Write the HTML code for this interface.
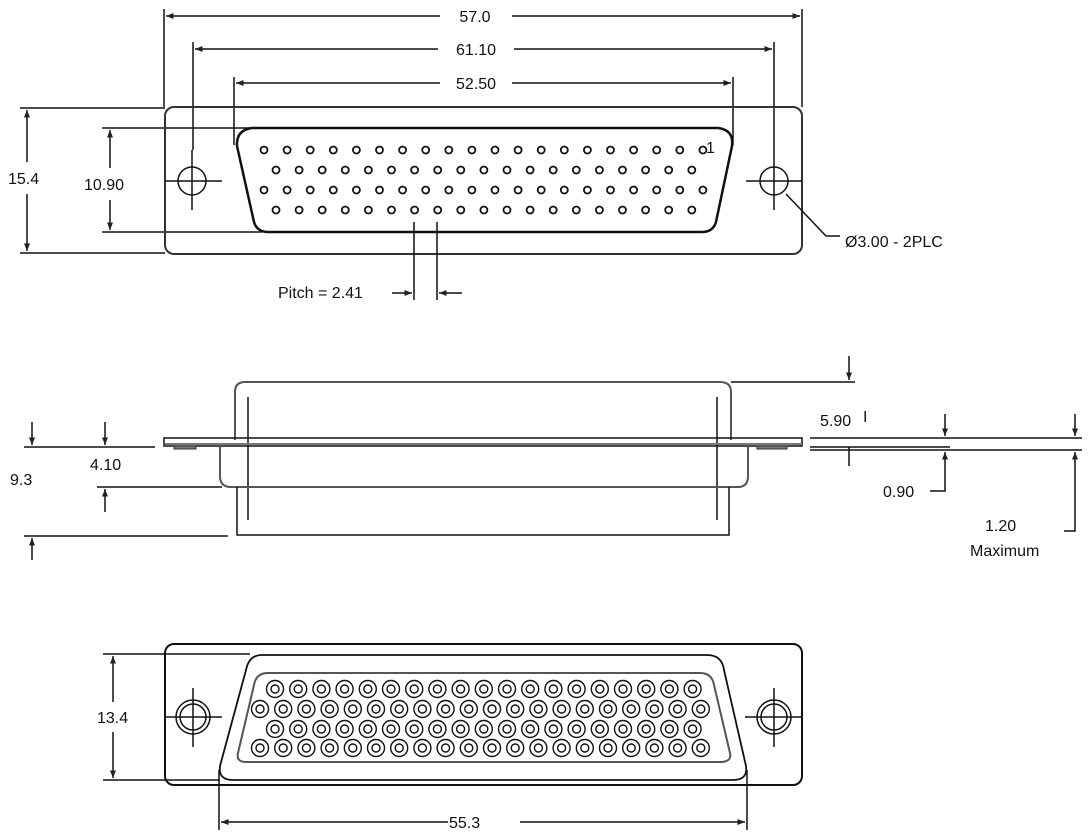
<!DOCTYPE html>
<html><head><meta charset="utf-8"><style>
html,body{margin:0;padding:0;background:#fff;}
svg{display:block;}
text{font-family:"Liberation Sans",sans-serif;font-size:16px;fill:#111;}
</style></head><body>
<svg id="s" width="1090" height="839" viewBox="0 0 1090 839" xmlns="http://www.w3.org/2000/svg">
<defs>
<marker id="a" viewBox="0 0 10 10" refX="10" refY="5" markerWidth="7" markerHeight="5" orient="auto-start-reverse"><path d="M0,1 L10,5 L0,9 z" fill="#222"/></marker>
</defs>
<g stroke="#111" stroke-width="1.5" fill="none">
<line x1="164" y1="9" x2="164" y2="107"/>
<line x1="802" y1="9" x2="802" y2="107"/>
<line x1="166" y1="16" x2="440" y2="16" marker-start="url(#a)"/>
<line x1="512" y1="16" x2="800" y2="16" marker-end="url(#a)"/>
<line x1="193" y1="42" x2="193" y2="150"/>
<line x1="774" y1="42" x2="774" y2="150"/>
<line x1="195" y1="49" x2="438" y2="49" marker-start="url(#a)"/>
<line x1="514" y1="49" x2="772" y2="49" marker-end="url(#a)"/>
<line x1="234" y1="77" x2="234" y2="145"/>
<line x1="733" y1="77" x2="733" y2="145"/>
<line x1="236" y1="83" x2="440" y2="83" marker-start="url(#a)"/>
<line x1="512" y1="83" x2="731" y2="83" marker-end="url(#a)"/>
<line x1="20" y1="108" x2="165" y2="108"/>
<line x1="20" y1="253" x2="165" y2="253"/>
<line x1="27" y1="110" x2="27" y2="162" marker-start="url(#a)"/>
<line x1="27" y1="194" x2="27" y2="251" marker-end="url(#a)"/>
<line x1="102" y1="128" x2="250" y2="128"/>
<line x1="102" y1="232" x2="262" y2="232"/>
<line x1="110" y1="130" x2="110" y2="168" marker-start="url(#a)"/>
<line x1="110" y1="200" x2="110" y2="230" marker-end="url(#a)"/>
<rect x="165" y="107" width="637" height="147" rx="9" stroke="#333" stroke-width="2"/>
<path d="M252,128 L718,128 Q734,130 732,146 L716,222 Q713,232 702,232 L268,232 Q257,232 254,222 L237,146 Q236,130 252,128 Z" stroke-width="2.5"/>
<circle cx="192" cy="181" r="14"/>
<circle cx="774" cy="181" r="14"/>
<line x1="165" y1="181" x2="222" y2="181"/><line x1="192" y1="150" x2="192" y2="210"/>
<line x1="746" y1="181" x2="802" y2="181"/><line x1="774" y1="150" x2="774" y2="210"/>
<polyline points="786,194 826,236 840,236"/>
<line x1="414" y1="222" x2="414" y2="300"/>
<line x1="437" y1="222" x2="437" y2="300"/>
<line x1="392" y1="293" x2="412" y2="293" marker-end="url(#a)"/>
<line x1="462" y1="293" x2="439" y2="293" marker-end="url(#a)"/>

<path d="M235,440 L235,392 Q235,382 245,382 L720,382 Q731,382 731,392 L731,440" stroke="#555" stroke-width="2"/>
<line x1="248" y1="397" x2="248" y2="520"/>
<line x1="717" y1="397" x2="717" y2="520"/>
<rect x="164" y="438" width="638" height="8" stroke-width="1.5"/>
<line x1="165" y1="444" x2="802" y2="444" stroke="#777" stroke-width="2"/>
<rect x="174" y="446" width="22" height="3" fill="#777" stroke="#333" stroke-width="1"/>
<rect x="757" y="446" width="30" height="3" fill="#777" stroke="#333" stroke-width="1"/>
<path d="M220,446 L220,476 Q220,487 231,487 L738,487 Q748,487 748,476 L748,446" stroke="#555" stroke-width="2"/>
<path d="M237,487 L237,535 L729,535 L729,487"/>
<line x1="24" y1="447" x2="155" y2="447"/>
<line x1="24" y1="536" x2="228" y2="536"/>
<line x1="32" y1="422" x2="32" y2="445" marker-end="url(#a)"/>
<line x1="32" y1="560" x2="32" y2="538" marker-end="url(#a)"/>
<line x1="105" y1="422" x2="105" y2="445" marker-end="url(#a)"/>
<line x1="97" y1="487" x2="222" y2="487"/>
<line x1="105" y1="512" x2="105" y2="489" marker-end="url(#a)"/>
<line x1="731" y1="382" x2="855" y2="382"/>
<line x1="849" y1="356" x2="849" y2="380" marker-end="url(#a)"/>
<line x1="849" y1="447" x2="849" y2="466"/>
<line x1="810" y1="438" x2="1082" y2="438"/>
<line x1="810" y1="447" x2="950" y2="447"/>
<line x1="810" y1="450" x2="1082" y2="450"/>
<line x1="945" y1="414" x2="945" y2="436" marker-end="url(#a)"/>
<polyline points="945,468 945,491 930,491" /><line x1="945" y1="468" x2="945" y2="452" marker-end="url(#a)"/>
<line x1="1075" y1="414" x2="1075" y2="436" marker-end="url(#a)"/>
<polyline points="1075,470 1075,531 1064,531"/><line x1="1075" y1="470" x2="1075" y2="452" marker-end="url(#a)"/>

<line x1="103" y1="654" x2="250" y2="654"/>
<line x1="103" y1="780" x2="220" y2="780"/>
<line x1="113" y1="656" x2="113" y2="702" marker-start="url(#a)"/>
<line x1="113" y1="732" x2="113" y2="778" marker-end="url(#a)"/>
<rect x="165" y="644" width="637" height="141" rx="9" stroke-width="2"/>
<path d="M262,655 L707,655 Q722,655 724,670 L746,766 Q748,780 733,780 L233,780 Q218,780 220,766 L246,670 Q249,655 262,655 Z" stroke-width="1.8"/>
<path d="M268,673 L700,673 Q712,673 714,685 L730,753 Q732,762 720,762 L246,762 Q236,762 238,753 L254,685 Q256,673 268,673 Z" stroke="#555" stroke-width="2"/>
<circle cx="193" cy="717" r="17"/><circle cx="193" cy="717" r="13"/>
<circle cx="774" cy="717" r="17"/><circle cx="774" cy="717" r="13"/>
<line x1="164" y1="717" x2="222" y2="717"/><line x1="193" y1="688" x2="193" y2="747"/>
<line x1="745" y1="717" x2="802" y2="717"/><line x1="774" y1="688" x2="774" y2="747"/>
<line x1="219" y1="770" x2="219" y2="830"/>
<line x1="747" y1="770" x2="747" y2="830"/>
<line x1="221" y1="822" x2="448" y2="822" marker-start="url(#a)"/>
<line x1="520" y1="822" x2="745" y2="822" marker-end="url(#a)"/>
<g id="pins"></g>
</g>
<text x="475" y="22" text-anchor="middle">57.0</text>
<text x="476" y="55" text-anchor="middle">61.10</text>
<text x="476" y="89" text-anchor="middle">52.50</text>
<text x="8" y="184">15.4</text>
<text x="84" y="190">10.90</text>
<text x="706" y="153" font-size="15">1</text>
<text x="845" y="247">Ø3.00 - 2PLC</text>
<text x="278" y="298">Pitch = 2.41</text>
<text x="10" y="485">9.3</text>
<text x="90" y="470">4.10</text>
<text x="820" y="426">5.90</text><text x="863" y="422" font-size="10">I</text>
<text x="883" y="497">0.90</text>
<text x="985" y="531">1.20</text>
<text x="970" y="556">Maximum</text>
<text x="97" y="723">13.4</text>
<text x="449" y="828">55.3</text>
</svg>
<script>
var g=document.getElementById('pins'),h='';
var rows=[[150,264,20],[170,276,19],[190,264,20],[210,276,19]];
rows.forEach(function(r){for(var i=0;i<r[2];i++){h+='<circle cx="'+(r[1]+i*23.1)+'" cy="'+r[0]+'" r="3.5" stroke-width="1.8"/>';}});
var b=[[689,275,19],[709,260,20],[729,275,19],[748,260,20]];
b.forEach(function(r){for(var i=0;i<r[2];i++){var x=r[1]+i*23.2;h+='<circle cx="'+x+'" cy="'+r[0]+'" r="8.5" stroke-width="1.4"/><circle cx="'+x+'" cy="'+r[0]+'" r="4" stroke-width="1.4"/>';}});
g.innerHTML=h;
</script>
</body></html>
